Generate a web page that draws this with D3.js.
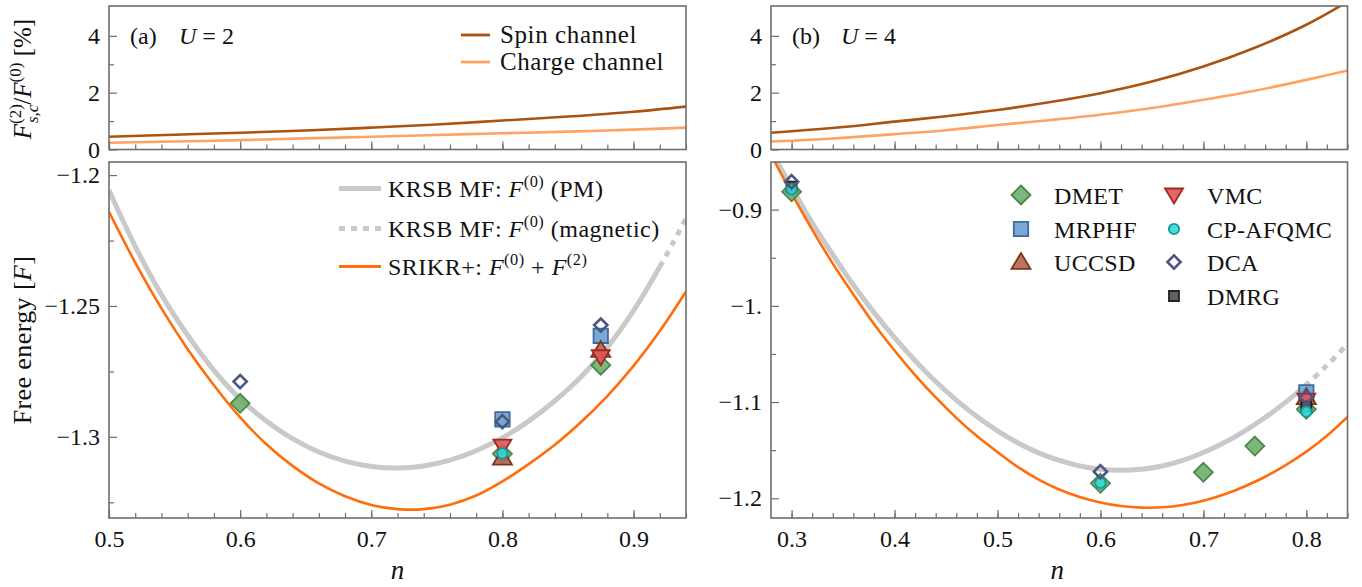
<!DOCTYPE html>
<html>
<head>
<meta charset="utf-8">
<script src="https://cdn.jsdelivr.net/npm/d3@7"></script>
<style>
  html, body { margin: 0; padding: 0; background: #fff; }
  svg { display: block; }
  svg text { font-family: 'Liberation Serif', 'Times New Roman', serif !important; fill: #111; }
</style>
</head>
<body>
<svg id="fig" width="1362" height="587"></svg>
<script>
// ---------- data ----------
// U = 2, free energy curves (n on a 0.02 grid)
const nPmU2 = [0.50,0.52,0.54,0.56,0.58,0.60,0.62,0.64,0.66,0.68,0.70,0.72,0.74,0.76,0.78,0.80,0.82,0.84,0.86,0.88,0.90,0.92];
const pmU2  = [-1.2058,-1.2272,-1.2457,-1.2612,-1.2746,-1.2855,-1.2939,-1.3007,-1.3058,-1.3093,-1.3113,-1.3119,-1.3111,-1.3089,-1.3053,-1.3004,-1.2940,-1.2862,-1.2770,-1.2658,-1.2518,-1.2350];
const nMagU2 = [0.92,0.93,0.94];
const magU2  = [-1.2350,-1.2260,-1.2165];
const nSrU2 = [0.50,0.52,0.54,0.56,0.58,0.60,0.62,0.64,0.66,0.68,0.70,0.72,0.74,0.76,0.78,0.80,0.82,0.84,0.86,0.88,0.90,0.92,0.94];
const srU2  = [-1.2140,-1.2334,-1.2509,-1.2665,-1.2803,-1.2926,-1.3028,-1.3111,-1.3178,-1.3227,-1.3260,-1.3276,-1.3276,-1.3259,-1.3224,-1.3170,-1.3104,-1.3030,-1.2943,-1.2844,-1.2729,-1.2596,-1.2445];

// U = 4, free energy curves
const nPmU4 = [0.28,0.30,0.32,0.34,0.36,0.38,0.40,0.42,0.44,0.46,0.48,0.50,0.52,0.54,0.56,0.58,0.60,0.62,0.64,0.66,0.68,0.70,0.72,0.74,0.76,0.78,0.79];
const pmU4  = [-0.8381,-0.8771,-0.9136,-0.9468,-0.9783,-1.0068,-1.0331,-1.0570,-1.0787,-1.0980,-1.1151,-1.1300,-1.1425,-1.1528,-1.1607,-1.1664,-1.1699,-1.1710,-1.1698,-1.1664,-1.1606,-1.1524,-1.1423,-1.1301,-1.1161,-1.1001,-1.0912];
const nMagU4 = [0.79,0.80,0.82,0.84];
const magU4  = [-1.0912,-1.0819,-1.0618,-1.0398];
const nSrU4 = [0.28,0.30,0.32,0.34,0.36,0.38,0.40,0.42,0.44,0.46,0.48,0.50,0.52,0.54,0.56,0.58,0.60,0.62,0.64,0.66,0.68,0.70,0.72,0.74,0.76,0.78,0.80,0.82,0.84];
const srU4  = [-0.8428,-0.8830,-0.9207,-0.9561,-0.9881,-1.0188,-1.0464,-1.0719,-1.0952,-1.1164,-1.1354,-1.1520,-1.1677,-1.1806,-1.1909,-1.1987,-1.2044,-1.2081,-1.2097,-1.2093,-1.2069,-1.2025,-1.1961,-1.1877,-1.1776,-1.1655,-1.1515,-1.1350,-1.1155];

// second-order corrections F^(2)_{s,c}/F^(0) in percent
const nPctU2 = [0.50,0.55,0.60,0.65,0.70,0.75,0.80,0.85,0.90,0.94];
const spinU2   = [0.45,0.52,0.59,0.67,0.77,0.88,1.02,1.16,1.33,1.51];
const chargeU2 = [0.24,0.28,0.33,0.39,0.45,0.51,0.57,0.63,0.70,0.77];
const nPctU4 = [0.28,0.30,0.35,0.40,0.45,0.50,0.55,0.60,0.65,0.70,0.75,0.80,0.84];
const spinU4   = [0.59,0.64,0.79,0.98,1.17,1.39,1.66,1.98,2.39,2.92,3.58,4.39,5.20];
const chargeU4 = [0.28,0.31,0.41,0.54,0.68,0.86,1.03,1.22,1.46,1.75,2.07,2.45,2.78];

// benchmark energies [n, F]
const dmetU2   = [[0.6,-1.2872],[0.8,-1.3065],[0.875,-1.2726]];
const mrphfU2  = [[0.8,-1.2933],[0.875,-1.2614]];
const uccsdU2  = [[0.8,-1.3080],[0.875,-1.2668]];
const vmcU2    = [[0.8,-1.3035],[0.875,-1.2694]];
const afqmcU2  = [[0.8,-1.3063]];
const dcaU2    = [[0.6,-1.2789],[0.8,-1.2942],[0.875,-1.2573]];
const dmrgU2   = [];

const dmetU4   = [[0.3,-0.8814],[0.6,-1.1844],[0.7,-1.1730],[0.75,-1.1457],[0.8,-1.1075]];
const mrphfU4  = [[0.8,-1.0899]];
const uccsdU4  = [[0.8,-1.0951]];
const vmcU4    = [[0.8,-1.0979]];
const afqmcU4  = [[0.3,-0.8789],[0.6,-1.1840],[0.8,-1.1100]];
const dcaU4    = [[0.3,-0.8710],[0.6,-1.1724],[0.8,-1.0950]];
const dmrgU4   = [[0.3,-0.8760],[0.8,-1.1048]];

// tick values and labels
const nTicksU2 = [0.5,0.6,0.7,0.8,0.9];
const nLabelsU2 = ["0.5","0.6","0.7","0.8","0.9"];
const nTicksU4 = [0.3,0.4,0.5,0.6,0.7,0.8];
const nLabelsU4 = ["0.3","0.4","0.5","0.6","0.7","0.8"];
const fTicksU2 = [-1.2,-1.25,-1.3];
const fLabelsU2 = ["\u22121.2","\u22121.25","\u22121.3"];
const fTicksU4 = [-0.9,-1.0,-1.1,-1.2];
const fLabelsU4 = ["\u22120.9","\u22121.","\u22121.1","\u22121.2"];
const pctTicks = [0,2,4];
const pctLabels = ["0","2","4"];

// ---------- styles ----------
const SERIF = "'Liberation Serif', 'Times New Roman', serif";
const C = {
  frame: "#6e6e6e",
  pm: "#c9c9c9",
  sr: "#ff6e0a",
  spin: "#ab5311",
  charge: "#fda463"
};
const markerStyle = {
  DMET:  {shape: "diamond", r: 9.5, fill: "#6fae6b", stroke: "#4c874b"},
  MRPHF: {shape: "square",  r: 7.2, fill: "#6b9fd1", stroke: "#3e6c99"},
  UCCSD: {shape: "up",      r: 9.5, fill: "#b4664a", stroke: "#7a3520"},
  VMC:   {shape: "down",    r: 9.0, fill: "#e05656", stroke: "#a42626"},
  DMRG:  {shape: "square",  r: 5.0, fill: "#505050", stroke: "#222222"},
  "CP-AFQMC": {shape: "circle", r: 5.2, fill: "#37d8d6", stroke: "#0f9c9c"},
  DCA:   {shape: "diamond", r: 6.6, fill: "none", stroke: "#4b5782", open: true}
};
const tickFont = 24;

const svg = d3.select("#fig").style("font-family", SERIF);

// ---------- layout ----------
const P = {
  a: {x0: 109, x1: 686, nDom: [0.5, 0.94]},
  b: {x0: 771, x1: 1347.5, nDom: [0.28, 0.84]}
};
const topY = [6, 149.5];
const botY = [162, 518];

function frame(g, x0, x1, y0, y1) {
  g.append("rect").attr("x", x0).attr("y", y0).attr("width", x1 - x0).attr("height", y1 - y0)
    .attr("fill", "none").attr("stroke", C.frame).attr("stroke-width", 1.6);
}

function styleAxis(s) {
  s.attr("font-family", SERIF);
  s.select(".domain").remove();
  s.selectAll("line").attr("stroke", C.frame).attr("stroke-width", 1.2);
  s.selectAll("text").attr("font-size", tickFont).attr("fill", "#111").style("font-family", SERIF);
}

function ticksX(g, x, y1, major, minor, labels) {
  g.append("g").attr("transform", `translate(0,${y1})`)
    .call(d3.axisBottom(x).tickValues(minor).tickSize(-5).tickFormat(""))
    .call(styleAxis);
  g.append("g").attr("transform", `translate(0,${y1})`)
    .call(d3.axisBottom(x).tickValues(major).tickSize(-8).tickPadding(12)
      .tickFormat((d, i) => labels ? labels[i] : ""))
    .call(styleAxis);
}

function ticksY(g, y, x0, major, minor, labels) {
  g.append("g").attr("transform", `translate(${x0},0)`)
    .call(d3.axisLeft(y).tickValues(minor).tickSize(-5).tickFormat(""))
    .call(styleAxis);
  g.append("g").attr("transform", `translate(${x0},0)`)
    .call(d3.axisLeft(y).tickValues(major).tickSize(-8).tickPadding(9).tickFormat((d, i) => labels[i]))
    .call(styleAxis);
}

function clip(id, x0, x1, y0, y1) {
  svg.append("clipPath").attr("id", id).append("rect")
    .attr("x", x0).attr("y", y0).attr("width", x1 - x0).attr("height", y1 - y0);
}

function curve(g, x, y, ns, vs, color, width, dash) {
  const line = d3.line().x(d => x(d[0])).y(d => y(d[1])).curve(d3.curveCatmullRom.alpha(0.5));
  g.append("path").datum(ns.map((n, i) => [n, vs[i]]))
    .attr("d", line).attr("fill", "none").attr("stroke", color).attr("stroke-width", width)
    .attr("stroke-dasharray", dash || null).attr("stroke-linecap", "butt");
}

function symbolPath(st) {
  const r = st.r;
  switch (st.shape) {
    case "diamond": return `M0,${-r}L${r},0L0,${r}L${-r},0Z`;
    case "square": return `M${-r},${-r}H${r}V${r}H${-r}Z`;
    case "up": return `M0,${-r * 0.95}L${r},${r * 0.72}L${-r},${r * 0.72}Z`;
    case "down": return `M0,${r * 0.95}L${r},${-r * 0.72}L${-r},${-r * 0.72}Z`;
    case "circle": return d3.arc()({innerRadius: 0, outerRadius: r, startAngle: 0, endAngle: 2 * Math.PI});
  }
}

function marker(g, cx, cy, name) {
  const st = markerStyle[name];
  g.append("path").attr("d", symbolPath(st))
    .attr("transform", `translate(${cx},${cy})`)
    .attr("fill", st.fill).attr("fill-opacity", st.open ? null : 0.9)
    .attr("stroke", st.stroke).attr("stroke-width", st.open ? 2.6 : 1.8)
    .attr("stroke-linejoin", "miter");
}

// ---------- panels ----------
function panel(key, cfg) {
  const p = P[key];
  const x = d3.scaleLinear().domain(p.nDom).range([p.x0, p.x1]);
  const yT = d3.scaleLinear().domain([0, 5.05]).range([topY[1], topY[0]]);
  const yB = d3.scaleLinear().domain(cfg.fDom).range([botY[1], botY[0]]);
  const minorN = d3.range(Math.ceil(p.nDom[0] * 50), Math.floor(p.nDom[1] * 50) + 1).map(k => k / 50);

  // top: correction percentages
  const gt = svg.append("g");
  clip("clipT" + key, p.x0, p.x1, topY[0], topY[1]);
  const ct = gt.append("g").attr("clip-path", `url(#clipT${key})`);
  curve(ct, x, yT, cfg.nPct, cfg.charge, C.charge, 2.6);
  curve(ct, x, yT, cfg.nPct, cfg.spin, C.spin, 2.6);
  ticksX(gt, x, topY[1], cfg.nTicks, minorN, null);
  ticksY(gt, yT, p.x0, pctTicks, [1, 3], pctLabels);
  frame(gt, p.x0, p.x1, topY[0], topY[1]);

  // bottom: free energies
  const gb = svg.append("g");
  clip("clipB" + key, p.x0, p.x1, botY[0], botY[1]);
  const cb = gb.append("g").attr("clip-path", `url(#clipB${key})`);
  curve(cb, x, yB, cfg.nPm, cfg.pm, C.pm, 5);
  curve(cb, x, yB, cfg.nMag, cfg.mag, C.pm, 5, "6,6");
  curve(cb, x, yB, cfg.nSr, cfg.sr, C.sr, 2.6);
  const sets = [["DMET", cfg.dmet], ["MRPHF", cfg.mrphf], ["UCCSD", cfg.uccsd], ["VMC", cfg.vmc],
                ["DMRG", cfg.dmrg], ["CP-AFQMC", cfg.afqmc], ["DCA", cfg.dca]];
  sets.forEach(([name, pts]) => pts.forEach(d => marker(cb, x(d[0]), yB(d[1]), name)));
  ticksX(gb, x, botY[1], cfg.nTicks, minorN, cfg.nLabels);
  ticksY(gb, yB, p.x0, cfg.fTicks, cfg.fMinor, cfg.fLabels);
  frame(gb, p.x0, p.x1, botY[0], botY[1]);

  // x title
  svg.append("text").attr("x", (p.x0 + p.x1) / 2 + cfg.titleShift).attr("y", 579)
    .attr("text-anchor", "middle").attr("font-size", 27).attr("font-style", "italic").text("n");

  // panel tag
  const tag = svg.append("text").attr("y", 44).attr("font-size", 24);
  tag.append("tspan").attr("x", p.x0 + 21).text(cfg.tag);
  tag.append("tspan").attr("x", p.x0 + 70).attr("font-style", "italic").text("U");
  tag.append("tspan").text(" = " + cfg.U);
}

panel("a", {
  fDom: [-1.331, -1.195],
  nTicks: nTicksU2, nLabels: nLabelsU2,
  fTicks: fTicksU2, fLabels: fLabelsU2, fMinor: [-1.225, -1.275, -1.325],
  nPct: nPctU2, spin: spinU2, charge: chargeU2,
  nPm: nPmU2, pm: pmU2, nMag: nMagU2, mag: magU2, nSr: nSrU2, sr: srU2,
  dmet: dmetU2, mrphf: mrphfU2, uccsd: uccsdU2, vmc: vmcU2, afqmc: afqmcU2, dca: dcaU2, dmrg: dmrgU2,
  tag: "(a)", U: 2, titleShift: 0
});
panel("b", {
  fDom: [-1.2205, -0.8505],
  nTicks: nTicksU4, nLabels: nLabelsU4,
  fTicks: fTicksU4, fLabels: fLabelsU4, fMinor: [-0.95, -1.05, -1.15],
  nPct: nPctU4, spin: spinU4, charge: chargeU4,
  nPm: nPmU4, pm: pmU4, nMag: nMagU4, mag: magU4, nSr: nSrU4, sr: srU4,
  dmet: dmetU4, mrphf: mrphfU4, uccsd: uccsdU4, vmc: vmcU4, afqmc: afqmcU4, dca: dcaU4, dmrg: dmrgU4,
  tag: "(b)", U: 4, titleShift: -2
});

// ---------- legends ----------
function legendLine(x0, x1, y, color, width, dash) {
  svg.append("line").attr("x1", x0).attr("x2", x1).attr("y1", y).attr("y2", y)
    .attr("stroke", color).attr("stroke-width", width).attr("stroke-dasharray", dash || null);
}
function mathText(x, y, parts, size, spacing) {
  const t = svg.append("text").attr("x", x).attr("y", y).attr("font-size", size)
    .attr("letter-spacing", spacing).style("white-space", "pre");
  parts.forEach(p => {
    const s = t.append("tspan").text(p.t);
    if (p.i) s.attr("font-style", "italic");
    if (p.sup) s.attr("font-size", size * 0.68).attr("dy", -size * 0.42);
    if (p.back) s.attr("dy", size * 0.42);
  });
  return t;
}

// channel legend (top left)
legendLine(461, 490, 35, C.spin, 2.8);
legendLine(461, 490, 62, C.charge, 2.8);
svg.append("text").attr("x", 500).attr("y", 43).attr("font-size", 25).attr("letter-spacing", 0.6).text("Spin channel");
svg.append("text").attr("x", 500).attr("y", 70).attr("font-size", 25).attr("letter-spacing", 0.6).text("Charge channel");

// curve legend (bottom left)
legendLine(339, 381, 188.5, C.pm, 5);
legendLine(339, 381, 228.5, C.pm, 5, "6,6");
legendLine(339, 381, 266.5, C.sr, 2.8);
mathText(388, 197, [{t: "KRSB MF: "}, {t: "F", i: 1}, {t: "(0)", sup: 1}, {t: " (PM)", back: 1}], 24, 0.5);
mathText(388, 237, [{t: "KRSB MF: "}, {t: "F", i: 1}, {t: "(0)", sup: 1}, {t: " (magnetic)", back: 1}], 24, 0.5);
mathText(388, 275, [{t: "SRIKR+: "}, {t: "F", i: 1}, {t: "(0)", sup: 1}, {t: " + ", back: 1}, {t: "F", i: 1}, {t: "(2)", sup: 1}], 24, 0.5);

// method legend (bottom right)
const legendMethods = [
  ["DMET", 1021, 195], ["MRPHF", 1021, 229], ["UCCSD", 1021, 262],
  ["VMC", 1174, 195], ["CP-AFQMC", 1174, 229], ["DCA", 1174, 262], ["DMRG", 1174, 296]
];
legendMethods.forEach(([name, mx, my]) => {
  marker(svg, mx, my, name);
  svg.append("text").attr("x", mx + 33).attr("y", my + 8.5).attr("font-size", 24)
    .attr("letter-spacing", 0.3).text(name);
});

// ---------- y titles ----------
const yt1 = svg.append("text").attr("transform", "translate(31,340) rotate(-90)")
  .attr("text-anchor", "middle").attr("font-size", 26).attr("letter-spacing", 0.4);
yt1.append("tspan").text("Free energy [");
yt1.append("tspan").attr("font-style", "italic").text("F");
yt1.append("tspan").text("]");

const yt2 = svg.append("text").attr("transform", "translate(31,79) rotate(-90)")
  .attr("text-anchor", "middle").attr("font-size", 25).style("white-space", "pre");
yt2.append("tspan").attr("font-style", "italic").text("F");
yt2.append("tspan").attr("font-size", 17).attr("dy", -10).text("(2)");
yt2.append("tspan").attr("font-size", 17).attr("font-style", "italic").attr("dx", -19).attr("dy", 17).text("s,c");
yt2.append("tspan").attr("dy", -7).text("/");
yt2.append("tspan").attr("font-style", "italic").text("F");
yt2.append("tspan").attr("font-size", 17).attr("dy", -10).text("(0)");
yt2.append("tspan").attr("dy", 10).text(" [%]");
</script>
</body>
</html>
